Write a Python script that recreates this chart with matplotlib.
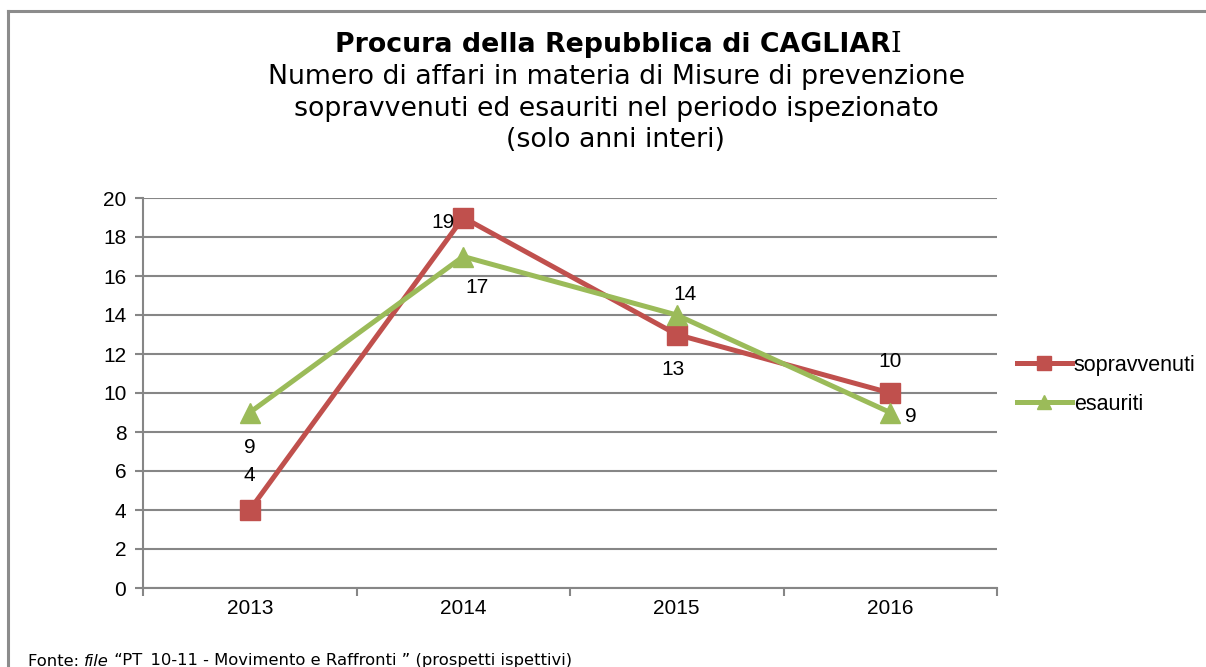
import matplotlib
matplotlib.use("Agg")
import matplotlib.pyplot as plt
from matplotlib.lines import Line2D

years = ["2013", "2014", "2015", "2016"]
sopravvenuti = [4, 19, 13, 10]
esauriti = [9, 17, 14, 9]
y_ticks = [0, 2, 4, 6, 8, 10, 12, 14, 16, 18, 20]

RED = "#C0504D"
GREEN = "#9BBB59"
GRID = "#868686"

W, H = 1206, 667
fig = plt.figure(figsize=(W / 100, H / 100), dpi=100)
fig.patch.set_facecolor("white")

ax = fig.add_axes([143 / W, 1 - 588 / H, (997 - 143) / W, (588 - 198) / H])
x = list(range(len(years)))

ax.plot(x, sopravvenuti, color=RED, lw=3.6, marker="s", markersize=14,
        markerfacecolor=RED, markeredgecolor=RED, label="sopravvenuti", zorder=3,
        solid_joinstyle="miter")
ax.plot(x, esauriti, color=GREEN, lw=3.6, marker="^", markersize=15,
        markerfacecolor=GREEN, markeredgecolor=GREEN, label="esauriti", zorder=4,
        solid_joinstyle="miter")

ax.set_xlim(-0.5, len(years) - 0.5)
ax.set_ylim(0, 20)
ax.set_yticks(y_ticks)
ax.set_yticklabels([str(v) for v in y_ticks], fontfamily="Liberation Sans", fontsize=15)
ax.set_xticks([i - 0.5 for i in range(len(years) + 1)])
ax.set_xticklabels([])
ax.set_xticks(x, minor=True)
ax.set_xticklabels(years, minor=True, fontfamily="Liberation Sans", fontsize=15)
ax.tick_params(axis="x", which="minor", length=0, pad=8)
ax.tick_params(axis="x", which="major", length=6, width=1.5, color=GRID)
ax.tick_params(axis="y", length=6, width=1.5, color=GRID, pad=6)
ax.grid(axis="y", color=GRID, lw=1.5, zorder=0)
ax.set_axisbelow(True)
for s in ["top", "right"]:
    ax.spines[s].set_visible(False)
for s in ["left", "bottom"]:
    ax.spines[s].set_color(GRID)
    ax.spines[s].set_linewidth(1.5)

lab_kw = dict(fontfamily="Liberation Sans", fontsize=15, ha="center", va="center")
# red labels: above, left, below, above
red_off = [(0, 25), (-14.5, -3.5), (-3, -25), (0, 23)]
for xi, v, (dx, dy) in zip(x, sopravvenuti, red_off):
    ax.annotate(str(v), (xi, v), xytext=(dx, dy), textcoords="offset points", **lab_kw)
# green labels: below, below, above, right
green_off = [(0, -25), (10, -22), (6, 15), (15, -3)]
for xi, v, (dx, dy) in zip(x, esauriti, green_off):
    ax.annotate(str(v), (xi, v), xytext=(dx, dy), textcoords="offset points", **lab_kw)

handles = [
    Line2D([], [], color=RED, lw=3.6, marker="s", markersize=10),
    Line2D([], [], color=GREEN, lw=3.6, marker="^", markersize=10),
]
fig.legend(handles, ["sopravvenuti", "esauriti"], loc="upper left",
           bbox_to_anchor=(1008 / W, 1 - 346 / H), frameon=False,
           prop={"family": "Liberation Sans", "size": 15.5}, handlelength=2.55,
           handletextpad=0.1, labelspacing=0.85, borderaxespad=0)

# titles
TS = 19.3
t_bold = fig.text(0.5, 1 - 45 / H, "Procura della Repubblica di CAGLIAR", ha="left",
                  va="center", fontsize=TS, fontweight="bold", fontfamily="DejaVu Sans")
t_i = fig.text(0.5, 1 - 45 / H, "I", ha="left", va="center",
               fontsize=TS, fontfamily="DejaVu Serif")
fig.canvas.draw()
bb = t_bold.get_window_extent()
bi = t_i.get_window_extent()
full_w = bb.width + bi.width
left = (W - full_w) / 2 + 15
t_bold.set_x(left / W)
t_i.set_x((left + bb.width) / W)
subtitle = ["Numero di affari in materia di Misure di prevenzione",
            "sopravvenuti ed esauriti nel periodo ispezionato",
            "(solo anni interi)"]
for i, line in enumerate(subtitle):
    fig.text(0.5 + 13 / W, 1 - (77 + i * 31.5) / H, line, ha="center", va="center",
             fontsize=TS, fontfamily="DejaVu Sans")

# border
fig.add_artist(Line2D([8 / W, 8 / W], [0, 1 - 11 / H], color="#8C8C8C", lw=2.2,
                      transform=fig.transFigure))
fig.add_artist(Line2D([8 / W, 1], [1 - 11 / H, 1 - 11 / H], color="#8C8C8C", lw=2.2,
                      transform=fig.transFigure))

# footer
FS = 11.8
ft = fig.text(28 / W, 1 - 661 / H, "Fonte: ", fontsize=FS, fontfamily="DejaVu Sans",
              va="center", ha="left")
fig.canvas.draw()
e = ft.get_window_extent()
ft2 = fig.text(e.x1 / W, 1 - 661 / H, "file", fontsize=FS, fontfamily="DejaVu Sans",
               style="italic", va="center", ha="left")
fig.canvas.draw()
e2 = ft2.get_window_extent()
fig.text(e2.x1 / W, 1 - 661 / H, " \u201cPT_10-11 - Movimento e Raffronti \u201d (prospetti ispettivi)",
         fontsize=FS, fontfamily="DejaVu Sans", va="center", ha="left")

fig.savefig("out.png", dpi=100)
